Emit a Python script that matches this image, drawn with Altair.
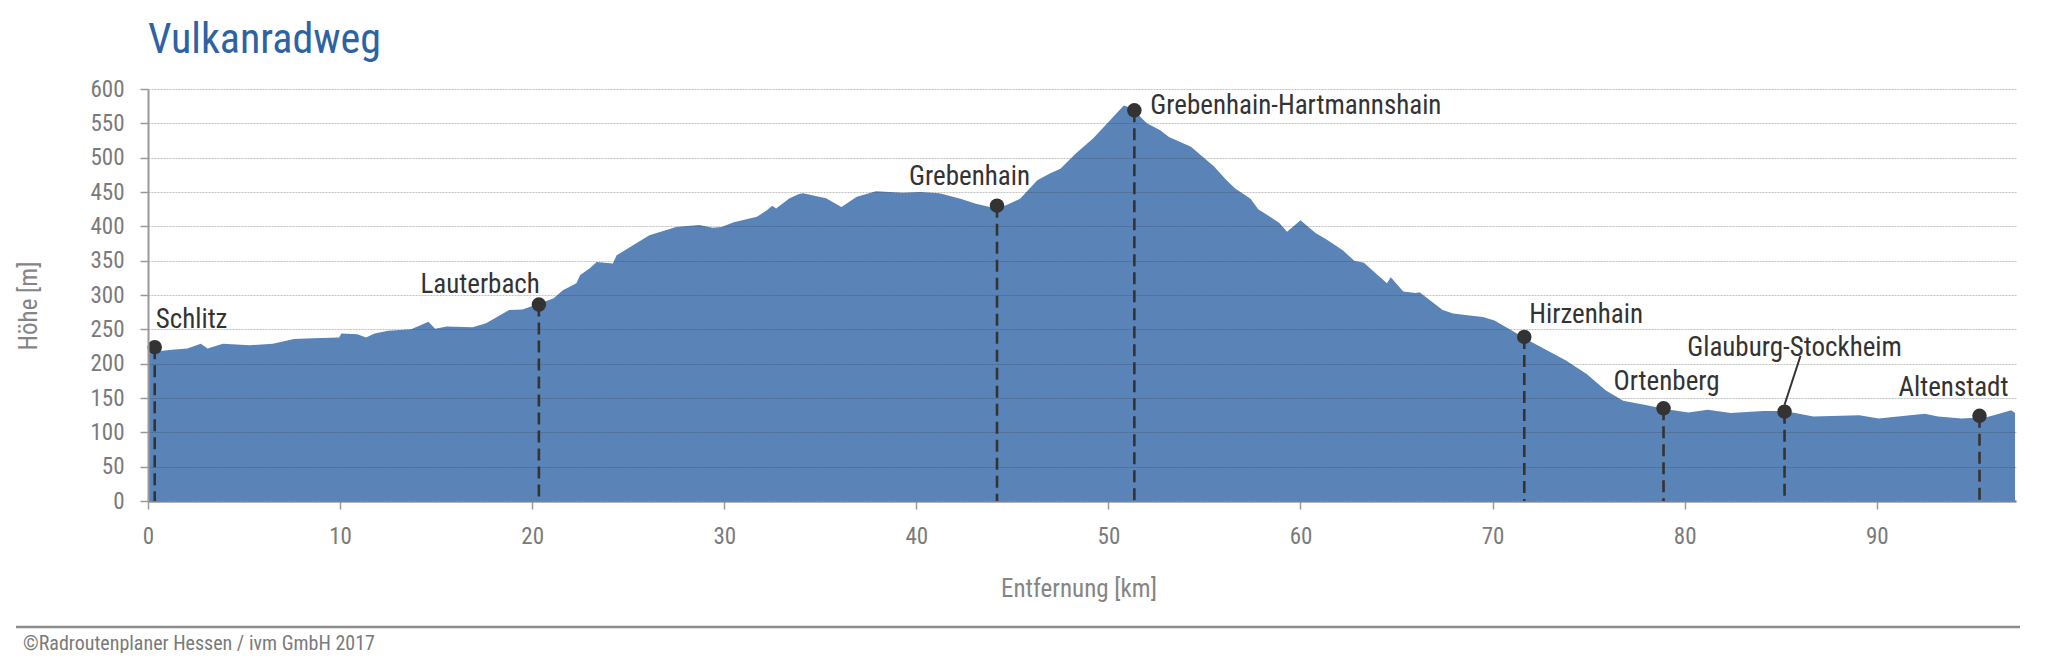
import altair as alt
import pandas as pd

FONT = "Roboto Condensed"

# ---- elevation profile (distance in km, elevation in m) ----
dist_km = [0.0, 0.2, 1.1, 2.05, 2.75, 3.1, 3.9, 5.3, 6.5, 7.6, 8.6, 9.95, 10.07, 10.9, 11.35,
           11.8, 12.5, 13.7, 14.6, 14.95, 15.55, 16.9, 17.6, 18.8, 19.5, 20.4, 21.1, 21.6, 22.3,
           22.5, 23.0, 23.36, 24.2, 24.4, 25.0, 26.1, 27.5, 28.7, 29.4, 29.85, 30.5, 31.7, 32.2,
           32.5, 32.7, 33.4, 33.9, 34.1, 35.3, 36.1, 36.9, 37.9, 39.3, 40.2, 41.2, 42.3, 43.1,
           44.0, 44.2, 44.7, 45.4, 46.3, 46.95, 47.5, 48.3, 49.2, 50.1, 50.8, 51.0, 51.4, 52.0,
           52.7, 53.15, 54.3, 55.5, 56.15, 56.6, 57.4, 57.8, 58.9, 59.3, 60.0, 60.8, 61.3, 62.2,
           62.8, 63.3, 64.5, 64.7, 65.35, 66.0, 66.2, 67.4, 67.95, 68.8, 69.5, 70.1, 71.2, 71.6,
           73.8, 74.9, 75.9, 76.8, 78.1, 78.95, 80.2, 81.2, 82.4, 84.1, 85.2, 86.7, 89.1, 90.1,
           92.5, 93.2, 94.4, 95.7, 96.1, 97.0, 97.2]
elev_m = [216, 217, 220, 222, 229, 222, 229, 227, 229, 236, 237, 238, 244, 243, 238,
          244, 248, 250, 261, 251, 254, 253, 259, 278, 279, 288, 295, 307, 317,
          329, 339, 348, 346, 358, 368, 387, 399, 402, 398, 399, 406, 414, 423,
          430, 426, 441, 447, 448, 441, 428, 443, 451, 449, 450, 448, 440, 433,
          427, 426, 431, 440, 467, 477, 484, 506, 528, 555, 576, 574, 567, 550,
          540, 530, 516, 487, 467, 455, 440, 425, 405, 392, 409, 390, 382, 365,
          350, 347, 317, 326, 305, 303, 304, 278, 273, 270, 268, 263, 245, 238,
          205, 185, 161, 146, 139, 134, 129, 133, 128, 131, 131, 123, 125, 120,
          127, 123, 120, 122, 125, 132, 128]

# ---- towns along the route ----
town_names = ["Schlitz", "Lauterbach", "Grebenhain", "Grebenhain-Hartmannshain",
              "Hirzenhain", "Ortenberg", "Glauburg-Stockheim", "Altenstadt"]
town_km = [0.35, 20.35, 44.2, 51.35, 71.65, 78.9, 85.2, 95.35]
town_m = [224, 286, 430, 569, 239, 135, 130, 124]

y_ticks = list(range(0, 601, 50))
x_ticks = list(range(0, 91, 10))

# label placement styles (align, dx, dy) in pixels
label_style = {
    "Schlitz": ("left", 1, -19),
    "Lauterbach": ("right", 1, -12),
    "Grebenhain": ("right", 33, -21),
    "Grebenhain-Hartmannshain": ("left", 16, 4),
    "Hirzenhain": ("left", 5, -14),
    "Ortenberg": ("center", 3, -18),
    "Glauburg-Stockheim": ("center", 10, -56),
    "Altenstadt": ("right", 29, -20),
}

profile = pd.DataFrame({"km": dist_km, "m": elev_m})
towns = pd.DataFrame({"name": town_names, "km": town_km, "m": town_m})
dummy = pd.DataFrame({"a": [0]})

W, H = 1868, 412

x_enc = alt.X("km:Q", scale=alt.Scale(domain=[0, 97.25], nice=False, zero=False),
              axis=alt.Axis(values=x_ticks, title=None, grid=False, labelFont=FONT,
                            labelFontSize=23, labelColor="#7a7a7a", tickColor="#999999",
                            tickSize=8, tickWidth=1.5, domainColor="#999999", domainWidth=2.5,
                            labelPadding=16, labelFlush=False))
y_enc = alt.Y("m:Q", scale=alt.Scale(domain=[0, 600], nice=False),
              axis=alt.Axis(values=y_ticks, title=None, grid=True, gridColor="#333333",
                            gridOpacity=0.3, gridDash=[2, 1], gridWidth=1, labelFont=FONT,
                            labelFontSize=23, labelColor="#7a7a7a", tickColor="#999999",
                            tickSize=8, tickWidth=1.5, domainColor="#999999", domainWidth=2,
                            labelPadding=16, zindex=1))

area = alt.Chart(profile).mark_area(color="#5a84b8", opacity=1, interpolate="linear").encode(
    x=x_enc, y=y_enc, y2=alt.datum(0))

drops = alt.Chart(towns).mark_rule(color="#333333", strokeWidth=2.6, strokeDash=[12, 6]).encode(
    x=x_enc, y=y_enc, y2=alt.datum(0))

leader = alt.Chart(towns).transform_filter(alt.datum.name == "Glauburg-Stockheim").mark_rule(
    color="#333333", strokeWidth=2, yOffset=-7, x2Offset=16, y2Offset=-56).encode(
    x=x_enc, y=y_enc, x2="km:Q", y2="m:Q")

dots = alt.Chart(towns).mark_circle(color="#333333", opacity=1, size=210).encode(x=x_enc, y=y_enc)

labels = []
for nm in town_names:
    al, dx, dy = label_style[nm]
    labels.append(
        alt.Chart(towns).transform_filter(alt.datum.name == nm).mark_text(
            font=FONT, fontSize=27, color="#333333", align=al, baseline="alphabetic", dx=dx, dy=dy
        ).encode(x=x_enc, y=y_enc, text="name:N"))

title = alt.Chart(dummy).mark_text(font=FONT, fontSize=42, color="#2d62a3", align="left",
                                   baseline="alphabetic").encode(
    x=alt.value(0), y=alt.value(-36), text=alt.value("Vulkanradweg"))

ytitle = alt.Chart(dummy).mark_text(font=FONT, fontSize=25, color="#858585", align="center",
                                    baseline="alphabetic", angle=270).encode(
    x=alt.value(-111), y=alt.value(217), text=alt.value("Höhe [m]"))

xtitle = alt.Chart(dummy).mark_text(font=FONT, fontSize=25, color="#858585", align="center",
                                    baseline="alphabetic").encode(
    x=alt.value(W / 2 - 3), y=alt.value(508), text=alt.value("Entfernung [km]"))

footer_line = alt.Chart(dummy).mark_rule(color="#8c8c8c", strokeWidth=2.5).encode(
    x=alt.value(-132), x2=alt.value(W + 4), y=alt.value(538))

copyright_txt = alt.Chart(dummy).mark_text(font=FONT, fontSize=20, color="#7a7a7a", align="left",
                                           baseline="alphabetic").encode(
    x=alt.value(-125), y=alt.value(561),
    text=alt.value("©Radroutenplaner Hessen / ivm GmbH 2017"))

chart = alt.layer(area, drops, leader, dots, *labels, title, ytitle, xtitle, footer_line,
                  copyright_txt).properties(
    width=W, height=H,
    autosize=alt.AutoSizeParams(type="none"),
    padding={"left": 140, "top": 81, "right": 24, "bottom": 152},
    background="white",
).configure_view(stroke=None)

chart.save("out.html", embed_options={"renderer": "svg", "actions": False})
